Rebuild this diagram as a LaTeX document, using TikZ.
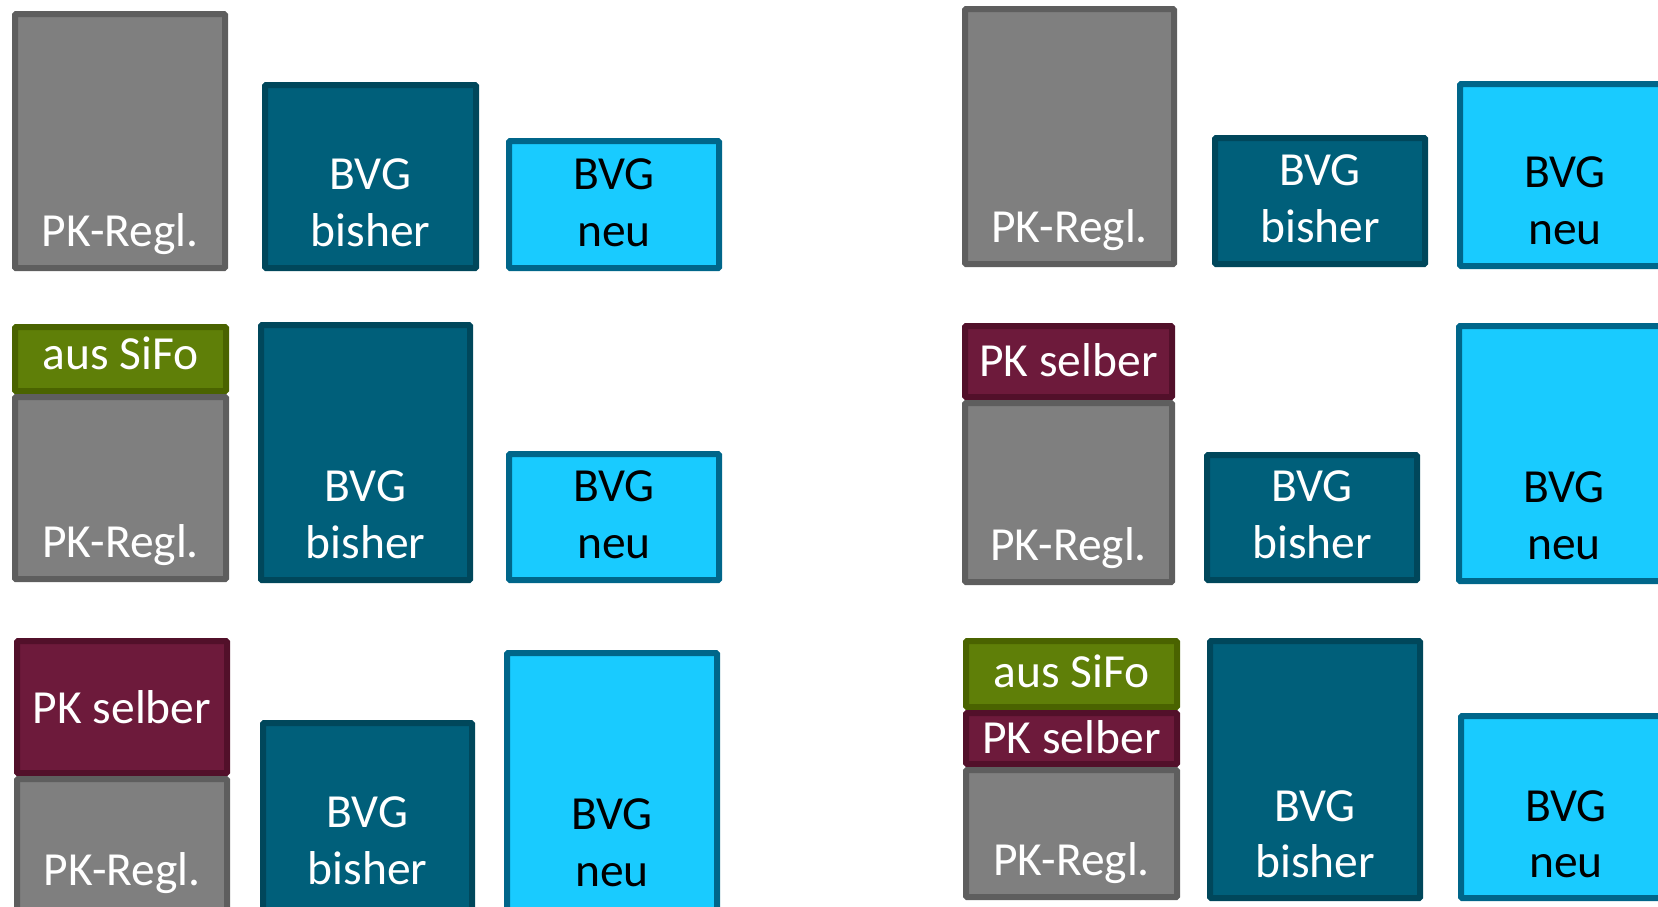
\documentclass[tikz,border=0pt]{standalone}
\usepackage{fontspec}
\setmainfont{Carlito}
\definecolor{grayfill}{HTML}{7F7F7F}
\definecolor{grayline}{HTML}{5E5E5E}
\definecolor{oldfill}{HTML}{005F7A}
\definecolor{oldline}{HTML}{00475B}
\definecolor{newfill}{HTML}{19CBFF}
\definecolor{newline}{HTML}{00668A}
\definecolor{sifofill}{HTML}{5F7F08}
\definecolor{sifoline}{HTML}{4A6300}
\definecolor{selffill}{HTML}{6D1A3B}
\definecolor{selfline}{HTML}{52102A}
\tikzset{
  blk/.style={rectangle, line width=6pt, inner sep=0pt, outer sep=0pt, rounded corners=1pt},
  regl/.style={blk, fill=grayfill, draw=grayline},
  bisher/.style={blk, fill=oldfill, draw=oldline},
  neu/.style={blk, fill=newfill, draw=newline},
  sifo/.style={blk, fill=sifofill, draw=sifoline},
  selbst/.style={blk, fill=selffill, draw=selfline},
  wtxt/.style={anchor=base, inner sep=0pt, text=white, font=\fontsize{47.5}{56}\selectfont},
  btxt/.style={wtxt, text=black},
}
% \blk{style}{x1}{y1}{x2}{y2}{name}: block given by its outer edges
\newcommand\blk[6]{%
  \node[#1, minimum width={#4-#2-6}, minimum height={#5-#3-6}]
    (#6) at ({(#2+#4)/2},{(#3+#5)/2}) {};}
\begin{document}
\begin{tikzpicture}[x=1pt, y=-1pt]
\useasboundingbox (0,0) rectangle (1658,906);
\clip (0,0) rectangle (1658,906);

% ---- row 1, left
\blk{regl}{12}{11}{228}{271}{g1}
\blk{bisher}{262}{82}{479}{271}{b1}
\blk{neu}{506}{138}{722}{271}{n1}
\node[wtxt] (g1t) at (g1.center |- 0,246.5) {PK-Regl.};
\node[wtxt] (b1a) at (b1.center |- 0,189.5) {BVG};
\node[wtxt] (b1b) at (b1.center |- 0,246.5) {bisher};
\node[btxt] (n1a) at (n1.center |- 0,189.5) {BVG};
\node[btxt] (n1b) at (n1.center |- 0,246.5) {neu};

% ---- row 1, right
\blk{regl}{962}{6}{1177}{267}{g2}
\blk{bisher}{1212}{135}{1428}{267}{b2}
\blk{neu}{1457}{81}{1673}{269}{n2}
\node[wtxt] (g2t) at (g2.center |- 0,242.5) {PK-Regl.};
\node[wtxt] (b2a) at (b2.center |- 0,185.5) {BVG};
\node[wtxt] (b2b) at (b2.center |- 0,242.5) {bisher};
\node[btxt] (n2a) at (n2.center |- 0,187.5) {BVG};
\node[btxt] (n2b) at (n2.center |- 0,244.5) {neu};

% ---- row 2, left
\blk{sifo}{12}{324}{229}{394}{s3}
\blk{regl}{12}{394}{229}{582}{g3}
\blk{bisher}{258}{322}{473}{583}{b3}
\blk{neu}{506}{451}{722}{583}{n3}
\node[wtxt] (s3t) at (s3.center |- 0,369.5) {aus SiFo};
\node[wtxt] (g3t) at (g3.center |- 0,557.5) {PK-Regl.};
\node[wtxt] (b3a) at (b3.center |- 0,501.5) {BVG};
\node[wtxt] (b3b) at (b3.center |- 0,558.5) {bisher};
\node[btxt] (n3a) at (n3.center |- 0,501.5) {BVG};
\node[btxt] (n3b) at (n3.center |- 0,558.5) {neu};

% ---- row 2, right
\blk{selbst}{962}{323}{1175}{400}{p4}
\blk{regl}{962}{400}{1175}{585}{g4}
\blk{bisher}{1204}{452}{1420}{583}{b4}
\blk{neu}{1456}{323}{1672}{584}{n4}
\node[wtxt] (p4t) at (p4.center |- 0,376.5) {PK selber};
\node[wtxt] (g4t) at (g4.center |- 0,560.5) {PK-Regl.};
\node[wtxt] (b4a) at (b4.center |- 0,501.5) {BVG};
\node[wtxt] (b4b) at (b4.center |- 0,558.5) {bisher};
\node[btxt] (n4a) at (n4.center |- 0,502.5) {BVG};
\node[btxt] (n4b) at (n4.center |- 0,559.5) {neu};

% ---- row 3, left (runs past the lower edge)
\blk{selbst}{14}{638}{230}{776}{p5}
\blk{regl}{14}{776}{230}{915}{g5}
\blk{bisher}{260}{720}{475}{915}{b5}
\blk{neu}{504}{650}{720}{915}{n5}
\node[wtxt] (p5t) at (p5.center |- 0,723) {PK selber};
\node[wtxt] (g5t) at (g5.center |- 0,885) {PK-Regl.};
\node[wtxt] (b5a) at (b5.center |- 0,827) {BVG};
\node[wtxt] (b5b) at (b5.center |- 0,884) {bisher};
\node[btxt] (n5a) at (n5.center |- 0,829) {BVG};
\node[btxt] (n5b) at (n5.center |- 0,886) {neu};

% ---- row 3, right
\blk{sifo}{963}{638}{1180}{710}{s6}
\blk{selbst}{963}{710}{1180}{767}{p6}
\blk{regl}{963}{767}{1180}{900}{g6}
\blk{bisher}{1207}{638}{1423}{901}{b6}
\blk{neu}{1458}{713}{1674}{901}{n6}
\node[wtxt] (s6t) at (s6.center |- 0,687) {aus SiFo};
\node[wtxt] (p6t) at (p6.center |- 0,753) {PK selber};
\node[wtxt] (g6t) at (g6.center |- 0,875) {PK-Regl.};
\node[wtxt] (b6a) at (b6.center |- 0,821) {BVG};
\node[wtxt] (b6b) at (b6.center |- 0,877.5) {bisher};
\node[btxt] (n6a) at (n6.center |- 0,821) {BVG};
\node[btxt] (n6b) at (n6.center |- 0,877.5) {neu};
\end{tikzpicture}
\end{document}
